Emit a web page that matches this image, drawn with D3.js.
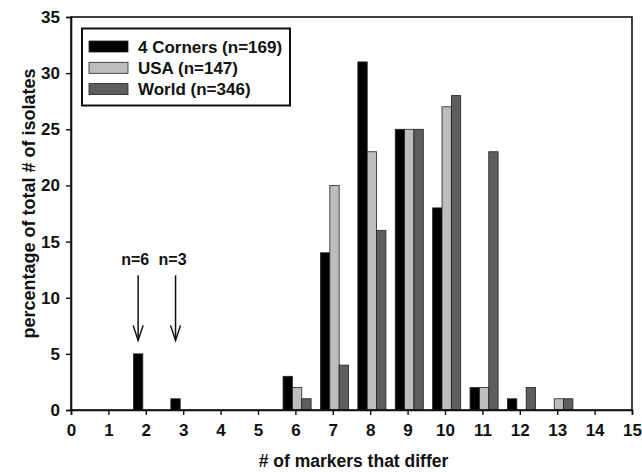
<!DOCTYPE html>
<html>
<head>
<meta charset="utf-8">
<script src="https://cdn.jsdelivr.net/npm/d3@7"></script>
<style>
  body { margin: 0; background: #fff; }
  text { font-family: "Liberation Sans", Arial, sans-serif; font-weight: bold; }
</style>
</head>
<body>
<svg width="642" height="472"></svg>
<script>
// values (percent of isolates)
const categories = [2, 3, 6, 7, 8, 9, 10, 11, 12, 13];
const fourCorners = [5, 1, 3, 14, 31, 25, 18, 2, 1, 0];
const usa = [0, 0, 2, 20, 23, 25, 27, 2, 0, 1];
const world = [0, 0, 1, 4, 16, 25, 28, 23, 2, 1];
const seriesNames = ["4 Corners (n=169)", "USA (n=147)", "World (n=346)"];
const seriesColors = ["#000000", "#bdbdbd", "#5e5e5e"];
const xTicks = d3.range(0, 16);
const yTicks = [0, 5, 10, 15, 20, 25, 30, 35];
const notes = [{ at: 2, label: "n=6" }, { at: 3, label: "n=3" }];

const svg = d3.select("svg");
const plot = { left: 71, right: 632, top: 17, bottom: 410 };

const x = d3.scaleLinear().domain([0, 15]).range([plot.left, plot.right]);
const y = d3.scaleLinear().domain([0, 35]).range([plot.bottom, plot.top]);
// position of each series inside a group, in data units
const sub = d3.scaleBand().domain(seriesNames).range([-0.33, 0.42]);

const allSeries = [fourCorners, usa, world];
const bars = [];
seriesNames.forEach((name, i) => {
  categories.forEach((c, j) => {
    if (allSeries[i][j] > 0) bars.push({ c, name, i, v: allSeries[i][j] });
  });
});

svg.append("g")
  .selectAll("rect")
  .data(bars)
  .join("rect")
  .attr("x", d => x(d.c + sub(d.name)))
  .attr("width", d => x(d.c + sub(d.name) + sub.bandwidth()) - x(d.c + sub(d.name)))
  .attr("y", d => y(d.v))
  .attr("height", d => y(0) - y(d.v))
  .attr("fill", d => seriesColors[d.i])
  .attr("stroke", "#222")
  .attr("stroke-width", 0.8);

// frame
svg.append("rect")
  .attr("x", plot.left).attr("y", plot.top)
  .attr("width", plot.right - plot.left).attr("height", plot.bottom - plot.top)
  .attr("fill", "none").attr("stroke", "#111").attr("stroke-width", 1.6);

const xAxis = svg.append("g")
  .attr("transform", `translate(0,${plot.bottom})`)
  .call(d3.axisBottom(x).tickValues(xTicks).tickSize(5).tickPadding(9).tickFormat(d3.format("d")));
const yAxis = svg.append("g")
  .attr("transform", `translate(${plot.left},0)`)
  .call(d3.axisLeft(y).tickValues(yTicks).tickSize(5).tickPadding(6));

[xAxis, yAxis].forEach(g => {
  g.select(".domain").attr("stroke", "#111").attr("stroke-width", 1.6);
  g.selectAll(".tick line").attr("stroke", "#111").attr("stroke-width", 1.4);
  g.selectAll(".tick text")
    .attr("fill", "#111")
    .style("font-size", "17px")
    .style("font-family", '"Liberation Sans", Arial, sans-serif')
    .style("font-weight", "bold");
});

svg.append("text")
  .attr("x", (plot.left + plot.right) / 2 + 2)
  .attr("y", 467)
  .attr("text-anchor", "middle")
  .style("font-size", "17.5px")
  .attr("fill", "#111")
  .text("# of markers that differ");

svg.append("text")
  .attr("transform", `translate(35,${(plot.top + plot.bottom) / 2 - 10}) rotate(-90)`)
  .attr("text-anchor", "middle")
  .style("font-size", "18px")
  .attr("fill", "#111")
  .text("percentage of total # of isolates");

// arrows pointing to the 4 Corners bars
const arrowX = d => x(d.at + sub(seriesNames[0]) + sub.bandwidth() / 2);
const ann = svg.append("g").attr("stroke", "#111").attr("stroke-width", 1.5).attr("fill", "none");
ann.selectAll("line")
  .data(notes)
  .join("line")
  .attr("x1", arrowX).attr("x2", arrowX)
  .attr("y1", y(12)).attr("y2", y(6.2));
ann.selectAll("polyline")
  .data(notes)
  .join("polyline")
  .attr("points", d => {
    const ax = arrowX(d), ay = y(6.2);
    return `${ax - 5},${ay - 15} ${ax},${ay} ${ax + 5},${ay - 15}`;
  });
svg.selectAll("text.note")
  .data(notes)
  .join("text")
  .attr("class", "note")
  .attr("x", d => arrowX(d) - 3)
  .attr("y", y(12.9))
  .attr("text-anchor", "middle")
  .style("font-size", "16px")
  .attr("fill", "#111")
  .text(d => d.label);

// legend
const legend = svg.append("g");
legend.append("rect")
  .attr("x", 82).attr("y", 28.5)
  .attr("width", 208).attr("height", 77)
  .attr("fill", "#fff").attr("stroke", "#111").attr("stroke-width", 2);
const rows = legend.selectAll("g.row")
  .data(seriesNames)
  .join("g")
  .attr("class", "row")
  .attr("transform", (d, i) => `translate(89,${46.5 + i * 21.3})`);
rows.append("rect")
  .attr("x", 0).attr("y", -5.5)
  .attr("width", 39).attr("height", 11)
  .attr("fill", (d, i) => seriesColors[i])
  .attr("stroke", "#222").attr("stroke-width", 0.8);
rows.append("text")
  .attr("x", 49).attr("y", 6)
  .style("font-size", "17px")
  .attr("fill", "#111")
  .text(d => d);
</script>
</body>
</html>
